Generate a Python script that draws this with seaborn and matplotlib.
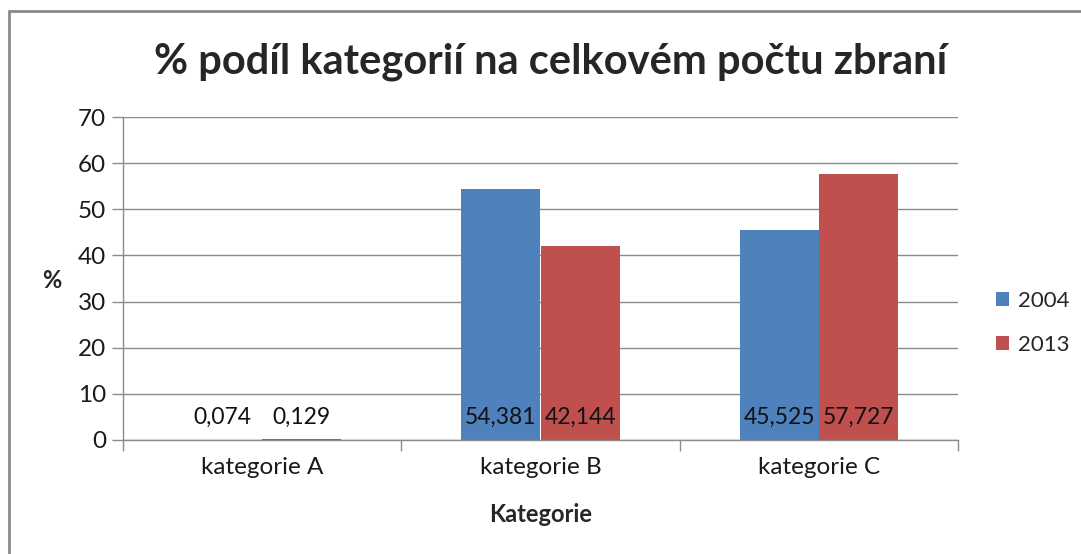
import matplotlib
matplotlib.use("Agg")
import matplotlib.pyplot as plt
import seaborn as sns
import pandas as pd
from matplotlib.patches import Rectangle

categories = ["kategorie A", "kategorie B", "kategorie C"]
years = ["2004", "2013"]
values_2004 = [0.074, 54.381, 45.525]
values_2013 = [0.129, 42.144, 57.727]
yticks = [0, 10, 20, 30, 40, 50, 60, 70]

df = pd.DataFrame({
    "Kategorie": categories * 2,
    "Rok": [years[0]] * 3 + [years[1]] * 3,
    "Hodnota": values_2004 + values_2013,
})

sns.set_style("white")
plt.rcParams["font.family"] = ["Lato", "DejaVu Sans"]

W, H = 1081, 554
fig = plt.figure(figsize=(W / 100, H / 100), dpi=100)
ax = fig.add_axes([123 / W, 1 - 440 / H, (958 - 123) / W, (440 - 117) / H])

palette = {"2004": "#4F81BD", "2013": "#C0504D"}
sns.barplot(data=df, x="Kategorie", y="Hodnota", hue="Rok", order=categories,
            hue_order=years, palette=palette, width=0.57, gap=0, saturation=1,
            ax=ax, legend=True, linewidth=0)

ax.set_ylim(0, 70)
ax.set_xlim(-0.5, 2.5)
ax.set_yticks(yticks)
ax.set_yticklabels([str(t) for t in yticks])
ax.yaxis.grid(True, color="#8c8c8c", linewidth=1)
ax.set_axisbelow(True)
for s in ["top", "right"]:
    ax.spines[s].set_visible(False)
for s in ["left", "bottom"]:
    ax.spines[s].set_color("#8c8c8c")
    ax.spines[s].set_linewidth(1)

ax.tick_params(axis="y", length=8, color="#8c8c8c", width=1, labelsize=17.5,
               labelcolor="#1a1a1a", pad=4, left=True, direction="out")
ax.tick_params(axis="x", which="major", length=0, labelsize=17.5,
               labelcolor="#1a1a1a", pad=12)
ax.set_xticks([-0.5, 0.5, 1.5, 2.5], minor=True)
ax.tick_params(axis="x", which="minor", length=8, color="#8c8c8c", width=1,
               bottom=True, direction="out")

ax.set_xlabel("Kategorie", fontsize=17, fontweight="bold", va="center")
ax.xaxis.set_label_coords(0.5, -(515 - 440) / (440 - 117), transform=ax.transAxes)
ax.set_ylabel("%", fontsize=17, fontweight="bold", rotation=0,
              ha="center", va="center")
ax.yaxis.set_label_coords(-(123 - 52) / (958 - 123), (440 - 280) / (440 - 117),
                          transform=ax.transAxes)

for cont in ax.containers:
    for bar in cont:
        v = bar.get_height()
        ax.annotate(f"{v:.3f}".replace(".", ","),
                    xy=(bar.get_x() + bar.get_width() / 2, 0),
                    xytext=(0, 23), textcoords="offset pixels",
                    ha="center", va="center", fontsize=16.5, color="#111111")

fig.suptitle("% podíl kategorií na celkovém počtu zbraní", fontsize=30,
             fontweight="bold", x=551 / W, y=1 - 62 / H, va="center")

leg = ax.legend(loc="center left", bbox_to_anchor=(996 / W, 1 - 323 / H),
                bbox_transform=fig.transFigure, frameon=False, title=None,
                fontsize=16, handlelength=0.6, handleheight=0.6,
                labelspacing=1.1, handletextpad=0.4, borderpad=0,
                borderaxespad=0)

fig.patches.append(Rectangle((9 / W, -0.1), 1.2, 1.1 - 11 / H,
                             transform=fig.transFigure, fill=False,
                             edgecolor="#8a8a8a", linewidth=2))

fig.savefig("out.png", dpi=100)
